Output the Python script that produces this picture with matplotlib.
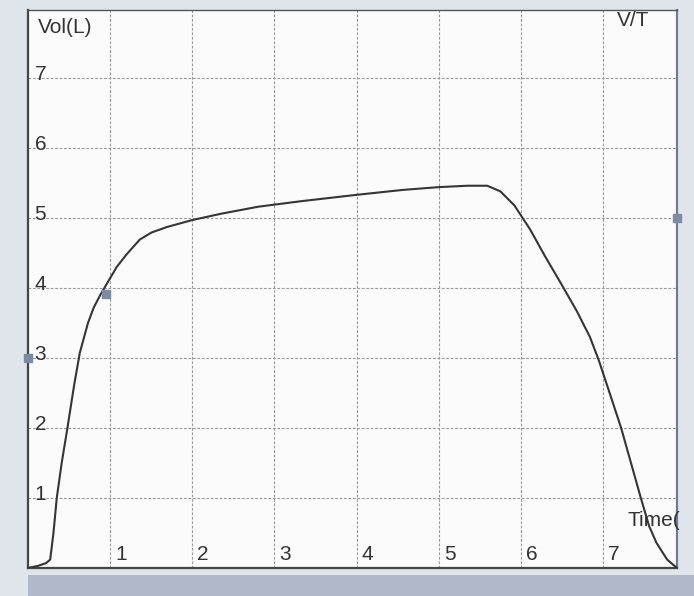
import numpy as np
import matplotlib
matplotlib.use('Agg')
import matplotlib.pyplot as plt
from matplotlib.patches import Rectangle

# volume-time trace (seconds, litres)
time_s = [0.0, 0.12, 0.22, 0.27, 0.31, 0.35, 0.41, 0.48, 0.56, 0.63, 0.73, 0.80, 0.88,
          0.98, 1.08, 1.20, 1.36, 1.50, 1.69, 2.00, 2.35, 2.80, 3.33, 4.00, 4.56,
          5.00, 5.35, 5.59, 5.75, 5.92, 6.11, 6.29, 6.49, 6.68, 6.84, 6.95, 7.08,
          7.22, 7.34, 7.46, 7.56, 7.65, 7.78, 7.90]
volume_l = [0.0, 0.03, 0.07, 0.12, 0.50, 1.00, 1.50, 2.00, 2.60, 3.07, 3.50, 3.72, 3.90,
            4.10, 4.30, 4.48, 4.69, 4.79, 4.87, 4.97, 5.06, 5.16, 5.24, 5.33, 5.40,
            5.44, 5.46, 5.46, 5.38, 5.18, 4.84, 4.46, 4.06, 3.67, 3.30, 2.96, 2.50,
            2.00, 1.50, 1.00, 0.60, 0.36, 0.12, 0.0]

y_ticks = [1, 2, 3, 4, 5, 6, 7]
x_ticks = [1, 2, 3, 4, 5, 6, 7]

# small cursor marks printed on the trace
mark_t = [0.95, 0.0, 7.9]
mark_v = [3.92, 3.0, 5.0]

plt.rcParams['font.family'] = ['Liberation Sans', 'DejaVu Sans']
txt = dict(fontsize=15, color='#333333')

fig = plt.figure(figsize=(6.94, 5.96), dpi=100, facecolor='#e0e4eb')
fig.patches.append(Rectangle((0.04, 0.0), 0.96, 0.035, transform=fig.transFigure,
                             facecolor='#b0b9ca', edgecolor='none', zorder=0))

ax = fig.add_axes([28 / 694, 28 / 596, 649 / 694, 558 / 596])
ax.set_facecolor('#fbfbfb')
ax.set_xlim(0, 7.9)
ax.set_ylim(0, 7.97)

for v in y_ticks:
    ax.axhline(v, color='#9a9a9a', lw=0.8, ls=(0, (2.5, 1.5)), zorder=1)
    ax.text(0.08, v + 0.05, str(v), ha='left', va='center', **txt)
for t in x_ticks:
    ax.axvline(t, color='#9a9a9a', lw=0.8, ls=(0, (2.5, 1.5)), zorder=1)
    ax.text(t + 0.06, 0.06, str(t), ha='left', va='bottom', **txt)

ax.plot(time_s, volume_l, color='#353535', lw=1.5, zorder=3)
ax.plot(mark_t, mark_v, ls='none', marker='s', ms=5.5, color='#7d8aa3', zorder=4,
        clip_on=False)

ax.text(0.12, 7.72, 'Vol(L)', ha='left', va='center', **txt)
ax.text(7.17, 7.82, 'V/T', ha='left', va='center', **txt)
ax.text(7.30, 0.68, 'Time(', ha='left', va='center', **txt)

ax.set_xticks([])
ax.set_yticks([])
for side in ['left', 'bottom']:
    ax.spines[side].set_color('#444444')
    ax.spines[side].set_linewidth(1.6)
ax.spines['top'].set_color('#555555')
ax.spines['top'].set_linewidth(1.0)
ax.spines['right'].set_color('#6f7c95')
ax.spines['right'].set_linewidth(1.6)

fig.savefig('out.png', dpi=100, facecolor=fig.get_facecolor())
